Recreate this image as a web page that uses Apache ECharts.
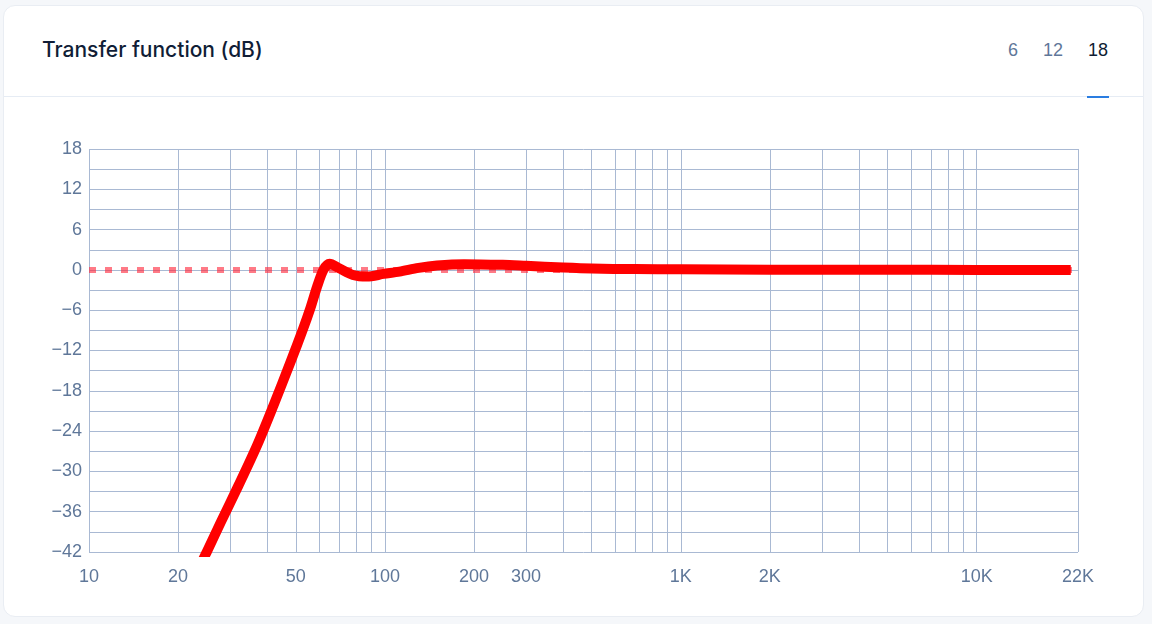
<!DOCTYPE html>
<html>
<head>
<meta charset="utf-8">
<script src="https://cdn.jsdelivr.net/npm/echarts@6/dist/echarts.min.js"></script>
<style>
  html, body { margin: 0; padding: 0; width: 1152px; height: 624px; background: #f5f7fa; overflow: hidden; }
  .card { position: absolute; left: 3px; top: 5px; width: 1141px; height: 612px; background: #fff;
          border: 1px solid #e9edf3; border-radius: 12px; box-sizing: border-box; }
  .sep { position: absolute; left: 0; right: 0; top: 90px; height: 1px; background: #e6ecf4; }
  .title { position: absolute; left: 38px; top: 31px; font-family: Inter, "Noto Sans", sans-serif; font-size: 21px;
           font-weight: 500; color: #101d36; letter-spacing: 0px; }
  .tab { position: absolute; top: 34px; white-space: nowrap; font-family: "Liberation Sans", Arial, sans-serif; font-size: 18px; color: #5f7799; }
  .tab.active { color: #0f1c33; }
  .underline { position: absolute; left: 1083px; top: 90px; width: 22px; height: 2px; background: #2a7de1; }
  #chart { position: absolute; left: 0; top: 0; width: 1152px; height: 624px; }
</style>
</head>
<body>
<div class="card">
  <div class="title">Transfer function (dB)</div>
  <div class="tab" style="left:1004px">6</div>
  <div class="tab" style="left:1039px">12</div>
  <div class="tab active" style="left:1084px">18</div>
  <div class="sep"></div>
  <div class="underline"></div>
</div>
<div id="chart"></div>
<script>
// Frequencies (Hz) and transfer function gains (dB)
const freqs = [20, 25, 28, 32, 37, 42, 48, 53, 56, 59, 62, 65, 70, 78, 87, 99, 112, 130, 150, 185, 250, 300, 400, 500, 700, 1000, 2000, 5000, 10000, 20000];
const gains = [-50.7, -42, -37.4, -32.1, -26.1, -20.2, -13.7, -8.7, -5.7, -2.5, 0, 0.9, 0.25, -0.75, -1.0, -0.6, -0.25, 0.3, 0.65, 0.85, 0.75, 0.6, 0.35, 0.2, 0.12, 0.08, 0.04, 0.02, 0, 0];
// Reference 0 dB line
const refFreqs = [10, 22000];
const refGains = [0, 0];
// Axis ticks
const xLabelValues = [10, 20, 50, 100, 200, 300, 1000, 2000, 10000, 22000];
const xGridValues = [10, 20, 30, 40, 50, 60, 70, 80, 90, 100, 200, 300, 400, 500, 600, 700, 800, 900,
  1000, 2000, 3000, 4000, 5000, 6000, 7000, 8000, 9000, 10000, 22000];
const yMin = -42, yMax = 18, yStep = 3, yLabelStep = 6;

const chart = echarts.init(document.getElementById('chart'), null, { renderer: 'canvas' });
const labelColor = '#5f7799';
const gridColor = '#a9b9d3';
chart.setOption({
  animation: false,
  grid: { left: 89, right: 74, top: 149, bottom: 72, containLabel: false },
  xAxis: {
    type: 'log', logBase: 10, min: 10, max: 22000,
    axisLine: { show: false },
    axisTick: { show: false, customValues: xGridValues },
    splitLine: { show: true, lineStyle: { color: gridColor, width: 1 } },
    axisLabel: {
      customValues: xLabelValues, color: labelColor, fontSize: 18,
      fontFamily: '"Liberation Sans", Arial, sans-serif', margin: 16,
      formatter: v => v >= 1000 ? (Math.round(v / 1000)) + 'K' : String(Math.round(v))
    }
  },
  yAxis: {
    type: 'value', min: yMin, max: yMax, interval: yStep,
    axisLine: { show: false }, axisTick: { show: false },
    splitLine: { show: true, lineStyle: { color: gridColor, width: 1 } },
    axisLabel: {
      color: labelColor, fontSize: 18, margin: 7,
      fontFamily: '"Liberation Sans", Arial, sans-serif',
      formatter: v => (v % yLabelStep === 0) ? String(v).replace('-', '\u2212') : ''
    }
  },
  series: [
    {
      type: 'line', data: refFreqs.map((f, i) => [f, refGains[i]]), symbol: 'none', silent: true,
      lineStyle: { color: 'rgba(255,40,60,0.62)', width: 6, type: [7, 9], cap: 'butt' }, z: 2
    },
    {
      type: 'line', data: freqs.map((f, i) => [f, gains[i]]), symbol: 'none', smooth: 0.3, clip: true,
      lineStyle: { color: '#ff0000', width: 10, cap: 'square', join: 'round' }, z: 3
    }
  ]
});
</script>
</body>
</html>
